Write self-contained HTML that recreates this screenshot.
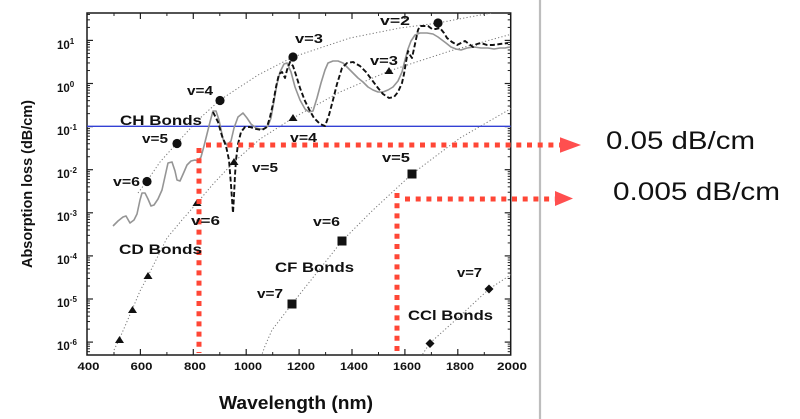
<!DOCTYPE html>
<html><head><meta charset="utf-8"><style>
html,body{margin:0;padding:0;background:#fff;}
svg{display:block;}
text{font-family:"Liberation Sans",Arial,sans-serif;fill:#111;}
.b{font-weight:bold;}
</style></head><body>
<svg width="800" height="419" viewBox="0 0 800 419" xmlns="http://www.w3.org/2000/svg">
<defs>
<clipPath id="pc"><rect x="87" y="13" width="424" height="342"/></clipPath>
<g id="mtl">
<line x1="87" x2="90" y1="-12.97" y2="-12.97"/><line x1="87" x2="90" y1="-20.56" y2="-20.56"/>
<line x1="87" x2="90" y1="-25.95" y2="-25.95"/><line x1="87" x2="90" y1="-30.13" y2="-30.13"/>
<line x1="87" x2="90" y1="-33.53" y2="-33.53"/><line x1="87" x2="90" y1="-36.42" y2="-36.42"/>
<line x1="87" x2="90" y1="-38.92" y2="-38.92"/><line x1="87" x2="90" y1="-41.12" y2="-41.12"/>
</g>
<g id="mtr">
<line x1="510.7" x2="507.7" y1="-12.97" y2="-12.97"/><line x1="510.7" x2="507.7" y1="-20.56" y2="-20.56"/>
<line x1="510.7" x2="507.7" y1="-25.95" y2="-25.95"/><line x1="510.7" x2="507.7" y1="-30.13" y2="-30.13"/>
<line x1="510.7" x2="507.7" y1="-33.53" y2="-33.53"/><line x1="510.7" x2="507.7" y1="-36.42" y2="-36.42"/>
<line x1="510.7" x2="507.7" y1="-38.92" y2="-38.92"/><line x1="510.7" x2="507.7" y1="-41.12" y2="-41.12"/>
</g>
</defs>
<rect width="800" height="419" fill="#fff"/>

<!-- right gray separator -->
<line x1="540" y1="0" x2="540" y2="419" stroke="#bdbdbd" stroke-width="2.2"/>

<!-- ticks -->
<g stroke="#222" stroke-width="1" clip-path="url(#pc)">
<use href="#mtl" transform="translate(0,385.2)"/><use href="#mtl" transform="translate(0,342.1)"/>
<use href="#mtl" transform="translate(0,299)"/><use href="#mtl" transform="translate(0,255.9)"/>
<use href="#mtl" transform="translate(0,212.8)"/><use href="#mtl" transform="translate(0,169.7)"/>
<use href="#mtl" transform="translate(0,126.6)"/><use href="#mtl" transform="translate(0,83.5)"/>
<use href="#mtl" transform="translate(0,40.4)"/>
<use href="#mtr" transform="translate(0,385.2)"/><use href="#mtr" transform="translate(0,342.1)"/>
<use href="#mtr" transform="translate(0,299)"/><use href="#mtr" transform="translate(0,255.9)"/>
<use href="#mtr" transform="translate(0,212.8)"/><use href="#mtr" transform="translate(0,169.7)"/>
<use href="#mtr" transform="translate(0,126.6)"/><use href="#mtr" transform="translate(0,83.5)"/>
<use href="#mtr" transform="translate(0,40.4)"/>
</g>
<g stroke="#222" stroke-width="1.2">
<line x1="87" x2="93" y1="40.4" y2="40.4"/><line x1="87" x2="93" y1="83.5" y2="83.5"/>
<line x1="87" x2="93" y1="126.6" y2="126.6"/><line x1="87" x2="93" y1="169.7" y2="169.7"/>
<line x1="87" x2="93" y1="212.8" y2="212.8"/><line x1="87" x2="93" y1="255.9" y2="255.9"/>
<line x1="87" x2="93" y1="299" y2="299"/><line x1="87" x2="93" y1="342.1" y2="342.1"/>
<line x1="510.7" x2="504.7" y1="40.4" y2="40.4"/><line x1="510.7" x2="504.7" y1="83.5" y2="83.5"/>
<line x1="510.7" x2="504.7" y1="126.6" y2="126.6"/><line x1="510.7" x2="504.7" y1="169.7" y2="169.7"/>
<line x1="510.7" x2="504.7" y1="212.8" y2="212.8"/><line x1="510.7" x2="504.7" y1="255.9" y2="255.9"/>
<line x1="510.7" x2="504.7" y1="299" y2="299"/><line x1="510.7" x2="504.7" y1="342.1" y2="342.1"/>
<line x1="140.4" x2="140.4" y1="355" y2="349"/><line x1="193.3" x2="193.3" y1="355" y2="349"/>
<line x1="246.2" x2="246.2" y1="355" y2="349"/><line x1="299.1" x2="299.1" y1="355" y2="349"/>
<line x1="352" x2="352" y1="355" y2="349"/><line x1="404.9" x2="404.9" y1="355" y2="349"/>
<line x1="457.8" x2="457.8" y1="355" y2="349"/>
<line x1="140.4" x2="140.4" y1="13" y2="19"/><line x1="193.3" x2="193.3" y1="13" y2="19"/>
<line x1="246.2" x2="246.2" y1="13" y2="19"/><line x1="299.1" x2="299.1" y1="13" y2="19"/>
<line x1="352" x2="352" y1="13" y2="19"/><line x1="404.9" x2="404.9" y1="13" y2="19"/>
<line x1="457.8" x2="457.8" y1="13" y2="19"/>
</g>
<g stroke="#222" stroke-width="1">
<line x1="114" x2="114" y1="355" y2="352"/><line x1="166.9" x2="166.9" y1="355" y2="352"/>
<line x1="219.8" x2="219.8" y1="355" y2="352"/><line x1="272.7" x2="272.7" y1="355" y2="352"/>
<line x1="325.6" x2="325.6" y1="355" y2="352"/><line x1="378.5" x2="378.5" y1="355" y2="352"/>
<line x1="431.4" x2="431.4" y1="355" y2="352"/><line x1="484.3" x2="484.3" y1="355" y2="352"/>
<line x1="114" x2="114" y1="13" y2="16"/><line x1="166.9" x2="166.9" y1="13" y2="16"/>
<line x1="219.8" x2="219.8" y1="13" y2="16"/><line x1="272.7" x2="272.7" y1="13" y2="16"/>
<line x1="325.6" x2="325.6" y1="13" y2="16"/><line x1="378.5" x2="378.5" y1="13" y2="16"/>
<line x1="431.4" x2="431.4" y1="13" y2="16"/><line x1="484.3" x2="484.3" y1="13" y2="16"/>
</g>

<!-- frame -->
<rect x="87" y="13" width="423.7" height="342" fill="none" stroke="#1a1a1a" stroke-width="1.5"/>

<!-- dotted guide curves -->
<g fill="none" stroke="#777" stroke-width="1" stroke-dasharray="1.2 2.2" clip-path="url(#pc)">
<polyline points="138,193 147,181 160,162 177,143 198,120 220,100 258,75 293,57 350,38 400,28 438,23 475,16 512,9"/>
<polyline points="114,350 119,340 132,310 140,291 148,276 167,238 182,220 197,203 214,183 234,162 260,139 293,118 340,92 389,71 450,51 512,34"/>
<polyline points="260,360 265,346 272,330 292,304 342,241 373,210 412,174 460,138 512,108"/>
<polyline points="419,360 424,352 430,343 460,316 489,289 512,274"/>
</g>

<!-- blue CH line -->
<line x1="87" y1="126.3" x2="510.7" y2="126.3" stroke="#3340d4" stroke-width="1.3"/>

<!-- gray solid curve -->
<polyline fill="none" stroke="#959595" stroke-width="1.6" stroke-linejoin="round" points="113,226 118,221 123,217 126,216 130,223 134,220 137,214 140,200 142,193 145,193 148,199 151,206 154,205 158,199 162,190 166,172 168,163 172,162 175,171 177,180 180,181 184,172 187,165 191,161 195,160 198,161 201,157 204,146 207,134 210,122 213,111 216,111 219,120 223,139 227,145 231,141 234,128 238,117 243,113 247,118 251,124 256,128 260,129 264,129 268,126 271,118 274,101 277,84 280,72 284,64 287,63 291,72 295,87 300,100 305,109 309,112 313,111 317,98 321,83 325,70 328,63 333,61 338,61 343,63 348,68 353,73 358,78 363,82 368,87 373,90 378,92 383,92 388,90 393,87 398,81 402,72 405,60 408,49 411,41 415,35 420,33 427,33 433,34 438,37 442,40 446,43 451,47 456,49 461,50 467,48 474,47 481,48 488,48 494,49 500,48 505,48 510,47"/>

<!-- black dashed curve -->
<polyline fill="none" stroke="#111" stroke-width="1.9" stroke-dasharray="5 2.5" stroke-linejoin="round" points="213,112 218,122 222,136 226,146 229,160 231,185 233,213 234,196 235,175 236,160 238,144 241,132 245,127 250,127 256,129 262,130 267,127 270,117 273,104 276,87 279,74 282,72 285,78 287,70 290,62 293,66 296,75 300,88 305,101 310,111 314,118 320,124 325,126 329,115 333,100 337,84 342,68 347,63 353,62 360,66 366,72 372,80 378,88 383,94 389,98 394,97 398,92 402,83 404,74 406,62 408,51 410,55 412,58 415,44 418,30 420,26 424,26 428,26 432,29 436,29 440,28 444,33 447,38 452,42 457,45 461,43 465,41 469,44 473,47 477,44 481,43 487,45 493,45 500,44 508,43"/>

<!-- markers -->
<g fill="#111">
<circle cx="147" cy="181.5" r="4.6"/><circle cx="177" cy="143.5" r="4.6"/>
<circle cx="220" cy="100.5" r="4.6"/><circle cx="293" cy="57" r="4.6"/>
<circle cx="438" cy="23" r="4.6"/>
<polygon points="115,343 119.5,336 124,343"/><polygon points="128,313 132.5,306 137,313"/>
<polygon points="143.5,279 148,272 152.5,279"/><polygon points="192.5,206 197,199 201.5,206"/>
<polygon points="229.5,165 234,158 238.5,165"/><polygon points="288.5,121 293,114 297.5,121"/>
<polygon points="384.5,74 389,67 393.5,74"/>
<rect x="407.5" y="169.5" width="9" height="9"/><rect x="337.5" y="236.5" width="9" height="9"/>
<rect x="287.5" y="299.5" width="9" height="9"/>
<polygon points="430,339 434.5,343.5 430,348 425.5,343.5"/>
<polygon points="489,284.5 493.5,289 489,293.5 484.5,289"/>
</g>

<!-- red dotted lines & arrows -->
<g fill="none" stroke="#ff4636" stroke-width="5">
<line x1="199" y1="148" x2="199" y2="353" stroke-dasharray="5 5.2"/>
<line x1="206" y1="145" x2="560" y2="145" stroke-dasharray="5 5.7"/>
<line x1="397" y1="193" x2="397" y2="353" stroke-dasharray="5 5.2"/>
<line x1="405" y1="199" x2="555" y2="199" stroke-dasharray="5 5.7"/>
</g>
<polygon points="560,137.3 581,145 560,152.7" fill="#ff4f4f"/>
<polygon points="555,191 573,198.5 555,206" fill="#ff4f4f"/>

<!-- series labels -->
<g font-size="13">
<text class="b" x="113" y="186" textLength="27" lengthAdjust="spacingAndGlyphs">v=6</text>
<text class="b" x="142" y="143" textLength="26" lengthAdjust="spacingAndGlyphs">v=5</text>
<text class="b" x="187" y="95" textLength="26" lengthAdjust="spacingAndGlyphs">v=4</text>
<text class="b" x="295" y="43" textLength="28" lengthAdjust="spacingAndGlyphs">v=3</text>
<text class="b" x="380" y="25" textLength="30" lengthAdjust="spacingAndGlyphs">v=2</text>
<text class="b" x="252" y="172" textLength="26" lengthAdjust="spacingAndGlyphs">v=5</text>
<text class="b" x="191" y="225" textLength="29" lengthAdjust="spacingAndGlyphs">v=6</text>
<text class="b" x="290" y="142" textLength="27" lengthAdjust="spacingAndGlyphs">v=4</text>
<text class="b" x="370" y="65" textLength="28" lengthAdjust="spacingAndGlyphs">v=3</text>
<text class="b" x="382" y="162" textLength="28" lengthAdjust="spacingAndGlyphs">v=5</text>
<text class="b" x="313" y="226" textLength="27" lengthAdjust="spacingAndGlyphs">v=6</text>
<text class="b" x="257" y="298" textLength="26" lengthAdjust="spacingAndGlyphs">v=7</text>
<text class="b" x="457" y="277" textLength="25" lengthAdjust="spacingAndGlyphs">v=7</text>
<text class="b" x="120" y="125" font-size="14" textLength="82" lengthAdjust="spacingAndGlyphs">CH Bonds</text>
<text class="b" x="119" y="254" font-size="14" textLength="83" lengthAdjust="spacingAndGlyphs">CD Bonds</text>
<text class="b" x="275" y="272" font-size="14" textLength="79" lengthAdjust="spacingAndGlyphs">CF Bonds</text>
<text class="b" x="408" y="320" font-size="14" textLength="85" lengthAdjust="spacingAndGlyphs">CCl Bonds</text>
</g>

<!-- y tick labels -->
<g font-size="11.5">
<text class="b" x="57" y="49">10<tspan font-size="8" dy="-5">1</tspan></text>
<text class="b" x="57" y="92">10<tspan font-size="8" dy="-5">0</tspan></text>
<text class="b" x="57" y="135">10<tspan font-size="8" dy="-5">-1</tspan></text>
<text class="b" x="57" y="178">10<tspan font-size="8" dy="-5">-2</tspan></text>
<text class="b" x="57" y="221">10<tspan font-size="8" dy="-5">-3</tspan></text>
<text class="b" x="57" y="264">10<tspan font-size="8" dy="-5">-4</tspan></text>
<text class="b" x="57" y="307">10<tspan font-size="8" dy="-5">-5</tspan></text>
<text class="b" x="57" y="350">10<tspan font-size="8" dy="-5">-6</tspan></text>
</g>

<!-- x tick labels -->
<g font-size="11" text-anchor="middle">
<text class="b" x="88.5" y="370" textLength="22" lengthAdjust="spacingAndGlyphs">400</text>
<text class="b" x="141.5" y="370" textLength="22" lengthAdjust="spacingAndGlyphs">600</text>
<text class="b" x="195" y="370" textLength="22" lengthAdjust="spacingAndGlyphs">800</text>
<text class="b" x="248" y="370" textLength="28" lengthAdjust="spacingAndGlyphs">1000</text>
<text class="b" x="301" y="370" textLength="28" lengthAdjust="spacingAndGlyphs">1200</text>
<text class="b" x="354" y="370" textLength="28" lengthAdjust="spacingAndGlyphs">1400</text>
<text class="b" x="407" y="370" textLength="28" lengthAdjust="spacingAndGlyphs">1600</text>
<text class="b" x="460" y="370" textLength="28" lengthAdjust="spacingAndGlyphs">1800</text>
<text class="b" x="512" y="370" textLength="30" lengthAdjust="spacingAndGlyphs">2000</text>
</g>

<!-- axis titles -->
<text class="b" x="219" y="409" font-size="18.5" textLength="154" lengthAdjust="spacingAndGlyphs">Wavelength (nm)</text>
<text class="b" transform="translate(32,184) rotate(-90)" text-anchor="middle" font-size="14.5" textLength="168" lengthAdjust="spacingAndGlyphs">Absorption loss (dB/cm)</text>

<!-- annotations -->
<text x="606" y="149" font-size="25" textLength="149" lengthAdjust="spacingAndGlyphs">0.05 dB/cm</text>
<text x="613" y="200" font-size="25" textLength="167" lengthAdjust="spacingAndGlyphs">0.005 dB/cm</text>
</svg>
</body></html>
